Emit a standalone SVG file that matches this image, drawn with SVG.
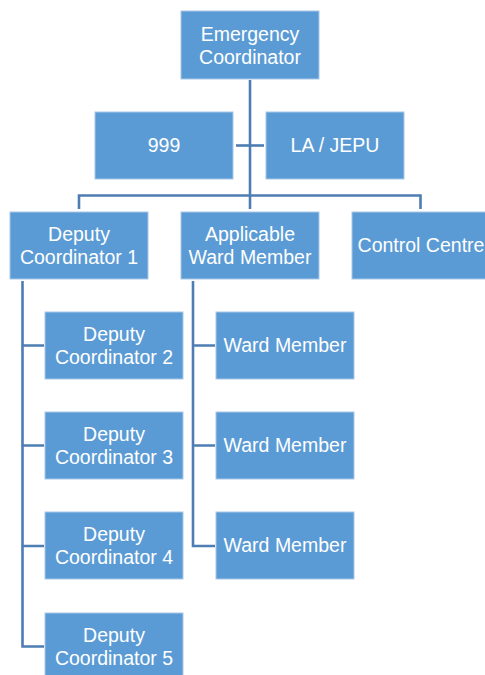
<svg xmlns="http://www.w3.org/2000/svg" width="485" height="675" viewBox="0 0 485 675">
<style>
.n rect{fill:#5B9BD5;stroke:#A9C8E8;stroke-width:1}
.n text{fill:#FFFFFF;font-family:"Liberation Sans",Arial,sans-serif;font-size:19.5px;text-anchor:middle}
#connectors path{fill:none;stroke:#4D7DB3;stroke-width:2.6}
</style>
<rect width="485" height="675" fill="#FFFFFF"/>
<g id="connectors">
<path d="M250 80V196"/>
<path d="M236 145.5H264"/>
<path d="M79 209V195.5H420.5V209"/>
<path d="M250 196V209"/>
<path d="M22.5 281V646.5H44"/>
<path d="M22.5 345.5H44M22.5 445.5H44M22.5 546H44"/>
<path d="M193 281V546H215"/>
<path d="M193 345.5H215M193 445.5H215"/>
</g>
<g id="emergency" class="n"><rect x="181" y="11" width="138" height="68"/><text x="250" y="40.5">Emergency</text><text x="250" y="63.5">Coordinator</text></g>
<g id="n999" class="n"><rect x="95" y="112" width="138" height="67"/><text x="164" y="152">999</text></g>
<g id="lajepu" class="n"><rect x="266" y="112" width="138" height="67"/><text x="335" y="152">LA / JEPU</text></g>
<g id="deputy1" class="n"><rect x="10" y="212" width="138" height="67"/><text x="79" y="241">Deputy</text><text x="79" y="264">Coordinator 1</text></g>
<g id="applicable" class="n"><rect x="181" y="212" width="138" height="67"/><text x="250" y="241">Applicable</text><text x="250" y="264">Ward Member</text></g>
<g id="control" class="n"><rect x="352" y="212" width="138" height="67"/><text x="421" y="252">Control Centre</text></g>
<g id="deputy2" class="n"><rect x="45" y="312" width="138" height="67"/><text x="114" y="341">Deputy</text><text x="114" y="364">Coordinator 2</text></g>
<g id="deputy3" class="n"><rect x="45" y="412" width="138" height="67"/><text x="114" y="441">Deputy</text><text x="114" y="464">Coordinator 3</text></g>
<g id="deputy4" class="n"><rect x="45" y="512" width="138" height="67"/><text x="114" y="541">Deputy</text><text x="114" y="564">Coordinator 4</text></g>
<g id="deputy5" class="n"><rect x="45" y="613" width="138" height="67"/><text x="114" y="642">Deputy</text><text x="114" y="665">Coordinator 5</text></g>
<g id="ward1" class="n"><rect x="216" y="312" width="138" height="67"/><text x="285" y="352">Ward Member</text></g>
<g id="ward2" class="n"><rect x="216" y="412" width="138" height="67"/><text x="285" y="452">Ward Member</text></g>
<g id="ward3" class="n"><rect x="216" y="512" width="138" height="67"/><text x="285" y="552">Ward Member</text></g>
</svg>
